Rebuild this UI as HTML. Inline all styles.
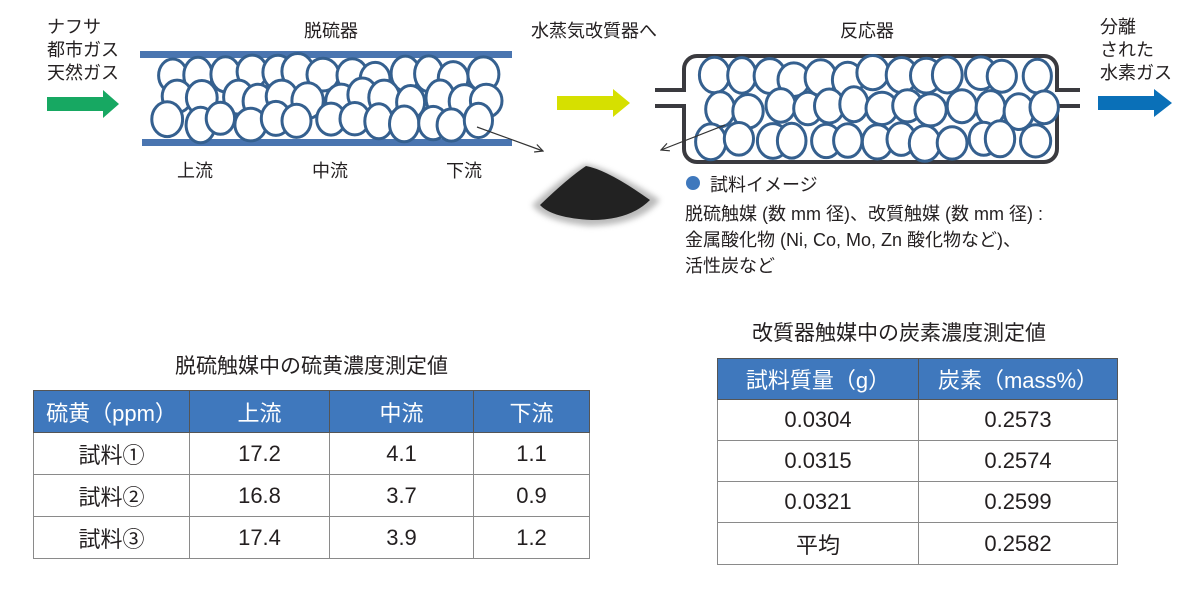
<!DOCTYPE html>
<html><head><meta charset="utf-8"><style>
body{margin:0;width:1200px;height:614px;background:#fff;position:relative;overflow:hidden;font-family:"Liberation Sans","Noto Sans CJK JP",sans-serif;color:#231f20}
.t{position:absolute;white-space:nowrap}
table{position:absolute;border-collapse:collapse;font-size:22px}
td{border:1.5px solid #8a8a8a;text-align:center;padding:0}
th{background:#3f78bd;color:#fff;font-weight:normal;border:1.5px solid #555;text-align:center;padding:0}
</style></head><body>
<svg id="s" width="1200" height="614" style="position:absolute;left:0;top:0">
<defs>
<marker id="ah" markerWidth="10" markerHeight="10" refX="9" refY="5" orient="auto" markerUnits="userSpaceOnUse"><path d="M1,1 L9,5 L1,9" fill="none" stroke="#333" stroke-width="1.2"/></marker>
<filter id="bl"><feGaussianBlur stdDeviation="3"/></filter>
</defs>
<rect x="140" y="51" width="372" height="7" fill="#4a75b0"/>
<rect x="142" y="139" width="370" height="7" fill="#4a75b0"/>
<g id="c1"></g>
<rect x="684" y="56" width="373" height="106" rx="13" fill="none" stroke="#3a3a3f" stroke-width="4"/>
<rect x="650" y="88" width="38" height="18" fill="#fff"/>
<rect x="1053" y="88" width="40" height="18" fill="#fff"/>
<path d="M655,90 H686 M655,106 H686 M1055,90 H1080 M1055,106 H1080" stroke="#3a3a3f" stroke-width="4"/>
<g id="c2"></g>
<polygon points="47,97 103,97 103,90 119,104 103,118 103,111 47,111" fill="#17a862"/>
<polygon points="557,96 613,96 613,89 630,103 613,117 613,110 557,110" fill="#d6e000"/>
<polygon points="1098,96 1154,96 1154,89 1172,103 1154,117 1154,110 1098,110" fill="#0a70b8"/>
<line x1="477" y1="127" x2="543" y2="151" stroke="#333" stroke-width="1.2" marker-end="url(#ah)"/>
<line x1="725" y1="125" x2="661" y2="150" stroke="#333" stroke-width="1.2" marker-end="url(#ah)"/>
<path d="M532,205 Q565,175 585,164 Q610,168 660,200 Q640,225 590,226 Q545,222 532,205Z" fill="#777" opacity="0.5" filter="url(#bl)"/>
<path d="M540,205 Q568,178 586,166 Q608,170 650,200 Q630,220 592,220 Q552,218 540,205Z" fill="#222"/>
<circle cx="693" cy="183" r="7" fill="#3f78bd"/>
</svg>
<div class="t" style="left:47px;top:16px;font-size:18px;line-height:23px">ナフサ<br>都市ガス<br>天然ガス</div>
<div class="t" style="left:304px;top:17px;font-size:18px">脱硫器</div>
<div class="t" style="left:177px;top:157px;font-size:18px">上流</div>
<div class="t" style="left:312px;top:157px;font-size:18px">中流</div>
<div class="t" style="left:446px;top:157px;font-size:18px">下流</div>
<div class="t" style="left:531px;top:17px;font-size:18px">水蒸気改質器へ</div>
<div class="t" style="left:840px;top:17px;font-size:18px">反応器</div>
<div class="t" style="left:1100px;top:16px;font-size:18px;line-height:23px">分離<br>された<br>水素ガス</div>
<div class="t" style="left:710px;top:171px;font-size:18px">試料イメージ</div>
<div class="t" style="left:685px;top:201px;font-size:18px;line-height:26px">脱硫触媒 (数 mm 径)、改質触媒 (数 mm 径) :<br>金属酸化物 (Ni, Co, Mo, Zn 酸化物など)、<br>活性炭など</div>
<div class="t" style="left:175px;top:350px;font-size:21px">脱硫触媒中の硫黄濃度測定値</div>
<div class="t" style="left:752px;top:317px;font-size:21px">改質器触媒中の炭素濃度測定値</div>
<table style="left:33px;top:390px;width:557px">
<tr style="height:42px"><th style="width:155px">硫黄（ppm）</th><th style="width:139px">上流</th><th style="width:143px">中流</th><th>下流</th></tr>
<tr style="height:42px"><td>試料①</td><td>17.2</td><td>4.1</td><td>1.1</td></tr>
<tr style="height:42px"><td>試料②</td><td>16.8</td><td>3.7</td><td>0.9</td></tr>
<tr style="height:42px"><td>試料③</td><td>17.4</td><td>3.9</td><td>1.2</td></tr>
</table>
<table style="left:717px;top:358px;width:401px">
<tr style="height:41px"><th style="width:200px">試料質量（g）</th><th>炭素（mass%）</th></tr>
<tr style="height:41px"><td>0.0304</td><td>0.2573</td></tr>
<tr style="height:41px"><td>0.0315</td><td>0.2574</td></tr>
<tr style="height:41px"><td>0.0321</td><td>0.2599</td></tr>
<tr style="height:42px"><td>平均</td><td>0.2582</td></tr>
</table>
<script>
var seed=7;function r(){seed=(seed*9301+49297)%233280;return seed/233280;}
function fill(id,x0,x1,y0,y1,nx){var g=document.getElementById(id),h='';var dx=(x1-x0)/nx;
for(var row=0;row<3;row++){for(var i=0;i<nx;i++){var cx=x0+dx*(i+0.5)+(r()-0.5)*12+(row%2?dx/3:0);if(cx>x1)continue;
var cy=y0+16+row*((y1-y0-32)/2)+(r()-0.5)*8;
h+='<ellipse cx="'+cx.toFixed(1)+'" cy="'+cy.toFixed(1)+'" rx="'+(14+r()*2).toFixed(1)+'" ry="'+(16+r()*2).toFixed(1)+'" fill="#fff" stroke="#35608f" stroke-width="3"/>';}}
g.innerHTML=h;}
fill('c1',160,495,59,138,13);
fill('c2',702,1045,60,156,13);
</script>
</body></html>
